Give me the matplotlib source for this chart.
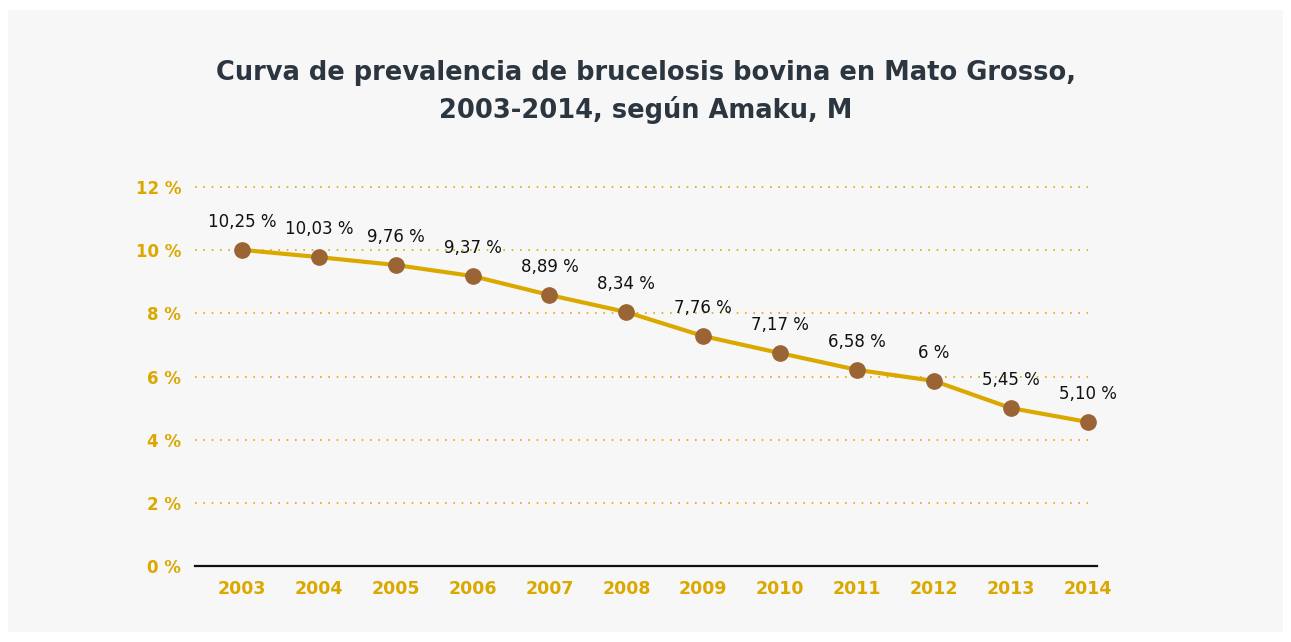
import matplotlib
matplotlib.use("Agg")
import matplotlib.pyplot as plt
from matplotlib.patches import Rectangle

anios = ["2003", "2004", "2005", "2006", "2007", "2008",
         "2009", "2010", "2011", "2012", "2013", "2014"]
# posicion de los puntos tal como aparecen sobre el eje
prevalencia = [10.01, 9.78, 9.53, 9.18, 8.58, 8.04, 7.28, 6.74, 6.21, 5.86, 5.00, 4.56]
etiquetas = ["10,25 %", "10,03 %", "9,76 %", "9,37 %", "8,89 %", "8,34 %",
             "7,76 %", "7,17 %", "6,58 %", "6 %", "5,45 %", "5,10 %"]
ticks_y = [0, 2, 4, 6, 8, 10, 12]

oro = "#dba800"
cafe = "#9a6434"
fondo = "#f7f7f7"

plt.rcParams["font.family"] = ["DejaVu Sans"]

fig = plt.figure(figsize=(12.91, 6.42), dpi=100, facecolor="white")
fig.patches.append(Rectangle((8 / 1291, 10 / 642), 1275 / 1291, 622 / 642,
                             transform=fig.transFigure, facecolor=fondo,
                             edgecolor="none", zorder=-10))

# ejes: x 195..1097 px, y 0% en 566 px, 12% en 187 px
ax = fig.add_axes([195 / 1291, (642 - 566) / 642, 902 / 1291, (566 - 187) / 642])
ax.set_facecolor(fondo)

x = list(range(len(anios)))
ax.plot(x, prevalencia, color=oro, linewidth=3, zorder=3)
ax.plot(x, prevalencia, "o", color=cafe, markersize=11, zorder=4)

for i, v in enumerate(prevalencia):
    ax.annotate(etiquetas[i], (i, v), xytext=(0, 13.5), textcoords="offset points",
                ha="center", va="bottom", fontsize=12, color="#111111")

ax.set_xlim(-0.61, 11.12)
ax.set_ylim(0, 12)
ax.set_xticks(x)
ax.set_xticklabels(anios, fontsize=12.5, fontweight="bold", color=oro)
ax.set_yticks(ticks_y)
ax.set_yticklabels([f"{t} %" for t in ticks_y], fontsize=12, fontweight="bold", color=oro)
ax.tick_params(axis="both", length=0)
ax.tick_params(axis="y", pad=10)
ax.tick_params(axis="x", pad=10)

for s in ax.spines.values():
    s.set_visible(False)
ax.axhline(0, color="#111111", linewidth=1.6, zorder=2, clip_on=False)
for t in ticks_y[1:]:
    ax.plot([-0.61, 11.0], [t, t], linestyle=(0, (1, 4)), color=oro,
            linewidth=1.2, zorder=1, clip_on=False)

fig.text(0.5, 1 - 92 / 642, "Curva de prevalencia de brucelosis bovina en Mato Grosso,\n2003-2014, según Amaku, M",
         ha="center", va="center", fontsize=18.5, fontweight="bold", color="#2c3640",
         linespacing=1.45)

plt.savefig("out.png", dpi=100, facecolor="white")
